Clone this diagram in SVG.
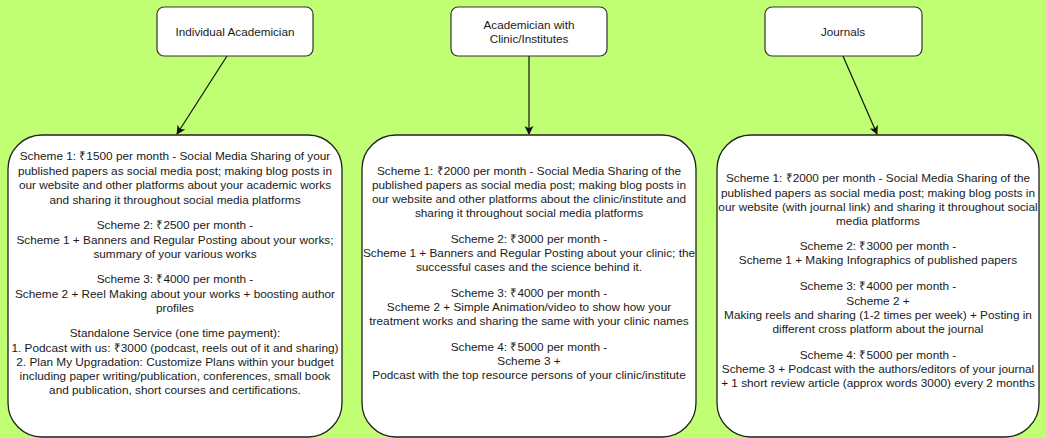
<svg xmlns="http://www.w3.org/2000/svg" width="1046" height="438" viewBox="0 0 1046 438">
<style>
.hdr{fill:#fff;stroke:#333;stroke-width:1.2}
.big{fill:#fff;stroke:#222;stroke-width:1.3}
text{font-family:"Liberation Sans",Arial,sans-serif;fill:#1a1a1a;text-anchor:middle}
.h{font-size:11.7px}
.b{font-size:11.8px}
.edge{stroke:#111;stroke-width:1.2;fill:none;marker-end:url(#arr)}
</style>
<defs>
<marker id="arr" viewBox="0 0 10 10" refX="9" refY="5" markerWidth="9" markerHeight="9" markerUnits="userSpaceOnUse" orient="auto">
<path d="M0,0 L10,5 L0,10 L2.5,5 Z" fill="#111"/>
</marker>
</defs>
<rect width="1046" height="438" fill="#c0ff73"/>
<g id="connectors">
<line class="edge" x1="227" y1="56" x2="177" y2="134"/>
<line class="edge" x1="529" y1="56" x2="529" y2="134"/>
<line class="edge" x1="843" y1="56" x2="877" y2="134"/>
</g>
<g id="n-individual">
<rect class="hdr" x="157" y="7" width="156" height="49" rx="7"/>
<text class="h" x="235" y="36">Individual Academician</text>
</g>
<g id="n-clinic">
<rect class="hdr" x="451" y="7" width="156" height="49" rx="7"/>
<text class="h" x="529" y="29">Academician with</text>
<text class="h" x="529" y="43">Clinic/Institutes</text>
</g>
<g id="n-journals">
<rect class="hdr" x="765" y="7" width="157" height="49" rx="7"/>
<text class="h" x="843" y="36">Journals</text>
</g>
<g id="n-individual-schemes">
<rect class="big" x="8" y="135" width="334" height="302" rx="34"/>
<text class="b" x="175" y="160">Scheme 1: ₹1500 per month - Social Media Sharing of your</text>
<text class="b" x="175" y="174.5">published papers as social media post; making blog posts in</text>
<text class="b" x="175" y="189">our website and other platforms about your academic works</text>
<text class="b" x="175" y="203.5">and sharing it throughout social media platforms</text>
<text class="b" x="175" y="229">Scheme 2: ₹2500 per month -</text>
<text class="b" x="175" y="243.5">Scheme 1 + Banners and Regular Posting about your works;</text>
<text class="b" x="175" y="258">summary of your various works</text>
<text class="b" x="175" y="283">Scheme 3: ₹4000 per month -</text>
<text class="b" x="175" y="297.5">Scheme 2 + Reel Making about your works + boosting author</text>
<text class="b" x="175" y="312">profiles</text>
<text class="b" x="175" y="337">Standalone Service (one time payment):</text>
<text class="b" x="175" y="351.5">1. Podcast with us: ₹3000 (podcast, reels out of it and sharing)</text>
<text class="b" x="175" y="366">2. Plan My Upgradation: Customize Plans within your budget</text>
<text class="b" x="175" y="380">including paper writing/publication, conferences, small book</text>
<text class="b" x="175" y="394">and publication, short courses and certifications.</text>
</g>
<g id="n-clinic-schemes">
<rect class="big" x="362" y="135" width="334" height="302" rx="34"/>
<text class="b" x="529" y="175">Scheme 1: ₹2000 per month - Social Media Sharing of the</text>
<text class="b" x="529" y="188.5">published papers as social media post; making blog posts in</text>
<text class="b" x="529" y="202.5">our website and other platforms about the clinic/institute and</text>
<text class="b" x="529" y="216.5">sharing it throughout social media platforms</text>
<text class="b" x="529" y="243">Scheme 2: ₹3000 per month -</text>
<text class="b" x="529" y="257">Scheme 1 + Banners and Regular Posting about your clinic; the</text>
<text class="b" x="529" y="271">successful cases and the science behind it.</text>
<text class="b" x="529" y="297">Scheme 3: ₹4000 per month -</text>
<text class="b" x="529" y="311">Scheme 2 + Simple Animation/video to show how your</text>
<text class="b" x="529" y="325">treatment works and sharing the same with your clinic names</text>
<text class="b" x="529" y="351">Scheme 4: ₹5000 per month -</text>
<text class="b" x="529" y="365">Scheme 3 +</text>
<text class="b" x="529" y="379">Podcast with the top resource persons of your clinic/institute</text>
</g>
<g id="n-journal-schemes">
<rect class="big" x="717" y="135" width="322" height="302" rx="34"/>
<text class="b" x="878" y="182">Scheme 1: ₹2000 per month - Social Media Sharing of the</text>
<text class="b" x="878" y="196.5">published papers as social media post; making blog posts in</text>
<text class="b" x="878" y="210.5">our website (with journal link) and sharing it throughout social</text>
<text class="b" x="878" y="224.5">media platforms</text>
<text class="b" x="878" y="250">Scheme 2: ₹3000 per month -</text>
<text class="b" x="878" y="264">Scheme 1 + Making Infographics of published papers</text>
<text class="b" x="878" y="290">Scheme 3: ₹4000 per month -</text>
<text class="b" x="878" y="304.5">Scheme 2 +</text>
<text class="b" x="878" y="318.5">Making reels and sharing (1-2 times per week) + Posting in</text>
<text class="b" x="878" y="332.5">different cross platform about the journal</text>
<text class="b" x="878" y="359">Scheme 4: ₹5000 per month -</text>
<text class="b" x="878" y="373">Scheme 3 + Podcast with the authors/editors of your journal</text>
<text class="b" x="878" y="386.5">+ 1 short review article (approx words 3000) every 2 months</text>
</g>
</svg>
